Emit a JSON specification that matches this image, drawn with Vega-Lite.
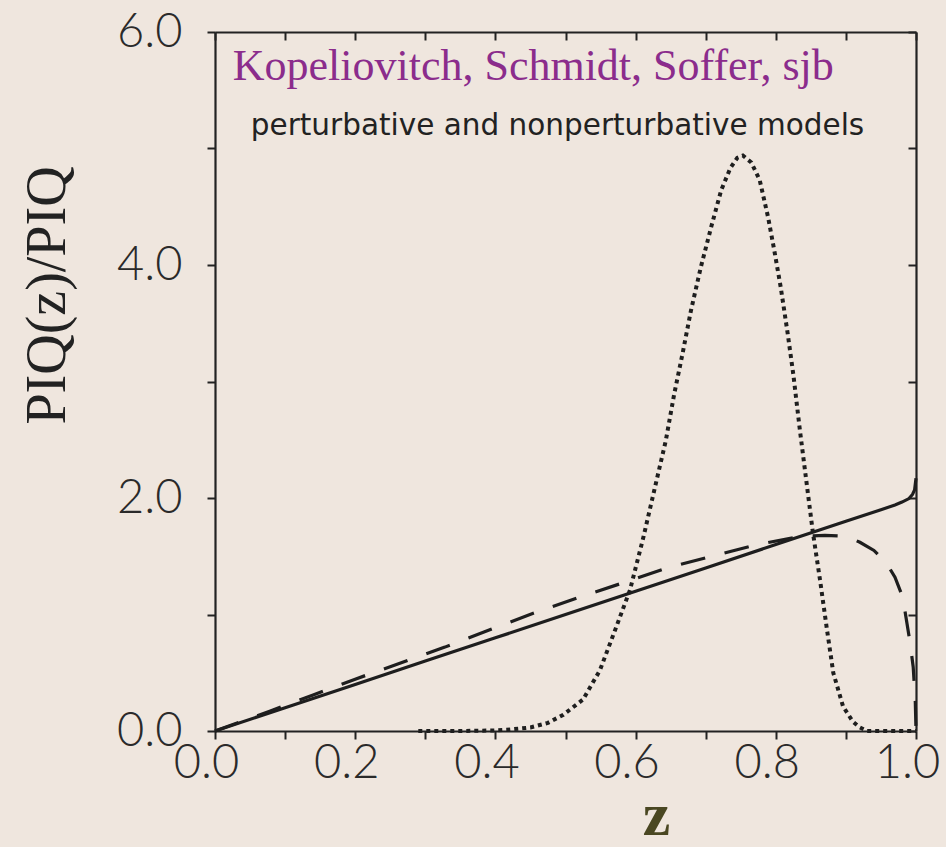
{
  "$schema": "https://vega.github.io/schema/vega-lite/v6.json",
  "autosize": "none",
  "width": 701,
  "height": 699,
  "padding": {"left": 215, "top": 32, "right": 30, "bottom": 116},
  "background": "#efe6de",
  "view": {"stroke": null},
  "config": {
    "axis": {"grid": false, "labelFlush": false, "labelOverlap": false, "domainColor": "#222222", "domainWidth": 2.2, "tickColor": "#222222", "tickWidth": 2}
  },
  "datasets": {
    "solid": [
      {"z": 0.0, "v": 0.0}, {"z": 0.1, "v": 0.2}, {"z": 0.2, "v": 0.4}, {"z": 0.3, "v": 0.6},
      {"z": 0.4, "v": 0.8}, {"z": 0.5, "v": 1.0}, {"z": 0.6, "v": 1.2}, {"z": 0.7, "v": 1.4},
      {"z": 0.8, "v": 1.6}, {"z": 0.9, "v": 1.8}, {"z": 0.95, "v": 1.9}, {"z": 0.97, "v": 1.94},
      {"z": 0.98, "v": 1.965}, {"z": 0.99, "v": 1.995}, {"z": 0.995, "v": 2.03}, {"z": 0.998, "v": 2.07},
      {"z": 1.0, "v": 2.17}
    ],
    "dashed": [
      {"z": 0.0, "v": 0.0}, {"z": 0.078, "v": 0.17}, {"z": 0.14, "v": 0.31}, {"z": 0.2, "v": 0.445},
      {"z": 0.328, "v": 0.72}, {"z": 0.392, "v": 0.87}, {"z": 0.454, "v": 1.01}, {"z": 0.516, "v": 1.14},
      {"z": 0.581, "v": 1.27}, {"z": 0.645, "v": 1.4}, {"z": 0.709, "v": 1.5}, {"z": 0.773, "v": 1.6},
      {"z": 0.835, "v": 1.67}, {"z": 0.87, "v": 1.68}, {"z": 0.901, "v": 1.67}, {"z": 0.92, "v": 1.62},
      {"z": 0.94, "v": 1.55}, {"z": 0.958, "v": 1.44}, {"z": 0.97, "v": 1.32}, {"z": 0.981, "v": 1.15},
      {"z": 0.991, "v": 0.78}, {"z": 0.996, "v": 0.55}, {"z": 0.999, "v": 0.25}, {"z": 1.0, "v": 0.0}
    ],
    "dotted": [
      {"z": 0.29, "v": 0.0}, {"z": 0.35, "v": 0.0}, {"z": 0.4, "v": 0.005}, {"z": 0.416, "v": 0.01},
      {"z": 0.45, "v": 0.03}, {"z": 0.475, "v": 0.07}, {"z": 0.497, "v": 0.14}, {"z": 0.525, "v": 0.27},
      {"z": 0.549, "v": 0.52}, {"z": 0.571, "v": 0.87}, {"z": 0.592, "v": 1.21}, {"z": 0.611, "v": 1.66},
      {"z": 0.626, "v": 2.05}, {"z": 0.643, "v": 2.49}, {"z": 0.655, "v": 2.89}, {"z": 0.667, "v": 3.24},
      {"z": 0.679, "v": 3.61}, {"z": 0.693, "v": 3.98}, {"z": 0.708, "v": 4.33}, {"z": 0.722, "v": 4.64},
      {"z": 0.735, "v": 4.83}, {"z": 0.745, "v": 4.92}, {"z": 0.753, "v": 4.94}, {"z": 0.765, "v": 4.88},
      {"z": 0.777, "v": 4.73}, {"z": 0.789, "v": 4.41}, {"z": 0.798, "v": 4.12}, {"z": 0.807, "v": 3.81},
      {"z": 0.817, "v": 3.41}, {"z": 0.825, "v": 3.06}, {"z": 0.834, "v": 2.6}, {"z": 0.846, "v": 2.03},
      {"z": 0.853, "v": 1.7}, {"z": 0.863, "v": 1.3}, {"z": 0.873, "v": 0.87}, {"z": 0.882, "v": 0.5},
      {"z": 0.896, "v": 0.21}, {"z": 0.91, "v": 0.08}, {"z": 0.92, "v": 0.03}, {"z": 0.93, "v": 0.0},
      {"z": 1.0, "v": 0.0}
    ],
    "notes": [
      {"title": "Kopeliovitch, Schmidt, Soffer, sjb", "sub": "perturbative and nonperturbative models"}
    ]
  },
  "resolve": {"scale": {"x": "shared", "y": "shared"}, "axis": {"x": "independent", "y": "independent"}},
  "layer": [
    {
      "data": {"name": "solid"},
      "mark": {"type": "line", "color": "#1e1e1e", "strokeWidth": 3.2, "clip": false},
      "encoding": {
        "x": {"field": "z", "type": "quantitative", "scale": {"domain": [0, 1], "nice": false, "zero": false},
          "axis": {"orient": "bottom", "values": [0, 0.1, 0.2, 0.3, 0.4, 0.5, 0.6, 0.7, 0.8, 0.9, 1.0],
            "labelExpr": "round(datum.value*10)%2==0 ? format(datum.value,'.1f') : ''",
            "tickSize": 8, "labelFont": "Lato", "labelFontWeight": 300, "labelFontSize": 47, "labelColor": "#2a2a2a",
            "labelPadding": 1, "labelOffset": -9,
            "title": "z", "titleFont": "Liberation Serif", "titleFontWeight": "bold", "titleFontSize": 62,
            "titleColor": "#4a4722", "titleX": 441, "titleY": 116, "titleBaseline": "bottom", "titleAlign": "center"}},
        "y": {"field": "v", "type": "quantitative", "scale": {"domain": [0, 6], "nice": false},
          "axis": {"orient": "left", "values": [0, 1, 2, 3, 4, 5, 6],
            "labelExpr": "round(datum.value)%2==0 ? format(datum.value,'.1f') : ''",
            "tickSize": 8, "labelFont": "Lato", "labelFontWeight": 300, "labelFontSize": 47, "labelColor": "#2a2a2a",
            "labelPadding": 25,
            "title": "PIQ(z)/PIQ", "titleFont": "Liberation Serif", "titleFontWeight": "normal", "titleFontSize": 56,
            "titleColor": "#222222", "titleX": -168, "titleY": 263, "titleAngle": -90, "titleBaseline": "middle", "titleAlign": "center"}}
      }
    },
    {
      "data": {"name": "dashed"},
      "mark": {"type": "line", "color": "#1e1e1e", "strokeWidth": 3.2, "strokeDash": [25, 20], "clip": false},
      "encoding": {
        "x": {"field": "z", "type": "quantitative", "axis": null},
        "y": {"field": "v", "type": "quantitative", "axis": null}
      }
    },
    {
      "data": {"name": "dotted"},
      "mark": {"type": "line", "color": "#1e1e1e", "strokeWidth": 4, "strokeDash": [4, 4], "clip": false},
      "encoding": {
        "x": {"field": "z", "type": "quantitative", "axis": null},
        "y": {"field": "v", "type": "quantitative", "axis": null}
      }
    },
    {
      "data": {"name": "notes"},
      "mark": {"type": "text", "font": "Liberation Serif", "fontSize": 44, "color": "#8b2c8c", "align": "center", "baseline": "alphabetic"},
      "encoding": {
        "text": {"field": "title"},
        "x": {"datum": 0.454, "type": "quantitative",
          "axis": {"orient": "top", "values": [0, 0.1, 0.2, 0.3, 0.4, 0.5, 0.6, 0.7, 0.8, 0.9, 1.0], "tickSize": -8, "labels": false, "title": null}},
        "y": {"datum": 5.59, "type": "quantitative",
          "axis": {"orient": "right", "values": [0, 1, 2, 3, 4, 5, 6], "tickSize": -8, "labels": false, "title": null}}
      }
    },
    {
      "data": {"name": "notes"},
      "mark": {"type": "text", "font": "DejaVu Sans", "fontSize": 29.5, "color": "#222222", "align": "center", "baseline": "alphabetic"},
      "encoding": {
        "text": {"field": "sub"},
        "x": {"datum": 0.4886, "type": "quantitative", "axis": null},
        "y": {"datum": 5.12, "type": "quantitative", "axis": null}
      }
    }
  ]
}
